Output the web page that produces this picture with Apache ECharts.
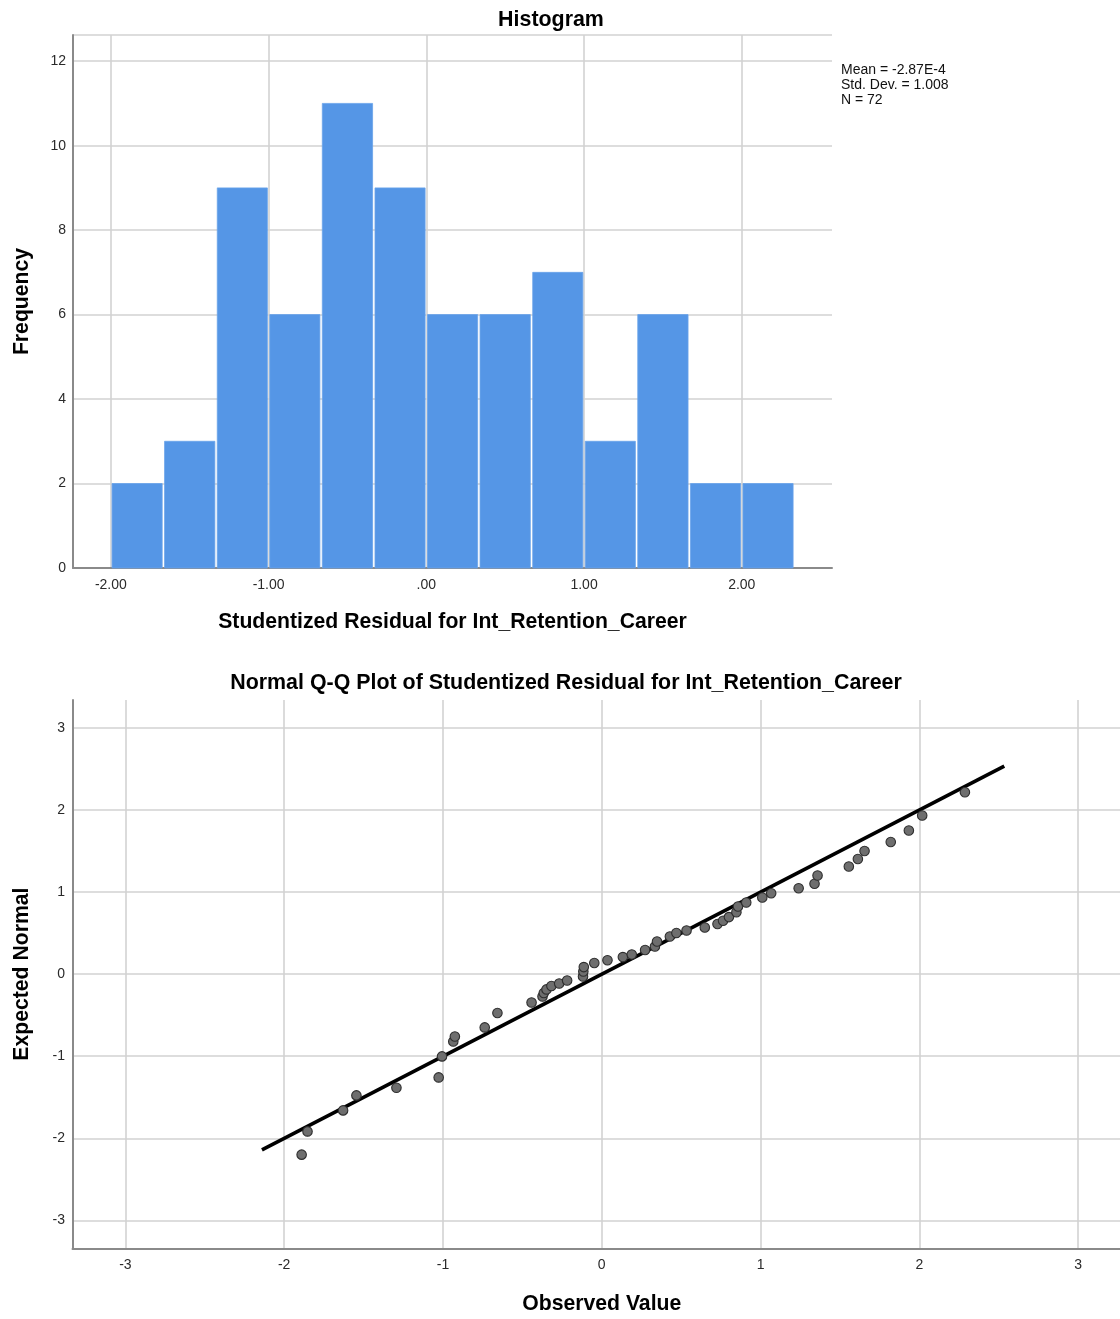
<!DOCTYPE html>
<html>
<head>
<meta charset="utf-8">
<script src="https://cdn.jsdelivr.net/npm/echarts@6/dist/echarts.min.js"></script>
<style>
  html, body { margin: 0; padding: 0; background: #ffffff; }
  #chart { width: 1120px; height: 1319px; }
</style>
</head>
<body>
<div id="chart"></div>
<script>
// ---------------- Data ----------------
// Histogram bins (lower / upper edges) and frequencies
const histBinLow  = [-2.000, -1.667, -1.333, -1.000, -0.667, -0.333, 0.000, 0.333, 0.667, 1.000, 1.333, 1.667, 2.000];
const histBinHigh = [-1.667, -1.333, -1.000, -0.667, -0.333, 0.000, 0.333, 0.667, 1.000, 1.333, 1.667, 2.000, 2.333];
const histCounts  = [2, 3, 9, 6, 11, 9, 6, 6, 7, 3, 6, 2, 2];
const histXTicks = [-2, -1, 0, 1, 2];
const histXTickLabels = ['-2.00', '-1.00', '.00', '1.00', '2.00'];
const statsLines = ['Mean = -2.87E-4', 'Std. Dev. = 1.008', 'N = 72'];

// Q-Q plot: observed value (x) and expected normal (y) per visible point
const qqObserved = [-1.890, -1.853, -1.629, -1.545, -1.293, -1.027, -1.006, -0.935, -0.925, -0.737,
                    -0.657, -0.442, -0.373, -0.365, -0.348, -0.317, -0.268, -0.218, -0.118, -0.116,
                    -0.113, -0.047, 0.036, 0.133, 0.189, 0.273, 0.335, 0.348, 0.429, 0.470,
                    0.534, 0.649, 0.729, 0.764, 0.801, 0.848, 0.858, 0.910, 1.011, 1.067,
                    1.240, 1.340, 1.359, 1.556, 1.613, 1.655, 1.820, 1.934, 2.018, 2.287];
const qqExpected = [-2.199, -1.916, -1.660, -1.477, -1.384, -1.258, -1.002, -0.820, -0.759, -0.649,
                    -0.474, -0.345, -0.272, -0.230, -0.186, -0.145, -0.113, -0.077, -0.028, 0.033,
                    0.086, 0.135, 0.169, 0.208, 0.240, 0.294, 0.337, 0.398, 0.459, 0.501,
                    0.532, 0.568, 0.611, 0.650, 0.695, 0.754, 0.825, 0.873, 0.933, 0.985,
                    1.046, 1.101, 1.202, 1.312, 1.403, 1.501, 1.610, 1.750, 1.932, 2.216];
const qqLineX = [-2.14, 2.535];
const qqLineY = [-2.14, 2.535];
const qqTicks = [-3, -2, -1, 0, 1, 2, 3];

// ---------------- Chart ----------------
const FONT = '"Liberation Sans", Arial, sans-serif';
const chart = echarts.init(document.getElementById('chart'), null, { renderer: 'canvas' });

const histData = histCounts.map((c, i) => [histBinLow[i], histBinHigh[i], c]);
const qqData = qqObserved.map((x, i) => [x, qqExpected[i]]);
const qqLine = qqLineX.map((x, i) => [x, qqLineY[i]]);

const axisLineStyle = { color: '#8a8a8a', width: 2 };
const gridLineStyle = { color: '#d2d2d2', width: 1.6 };
const labelStyle = { color: '#2a2a2a', fontSize: 14, fontFamily: FONT };
const nameStyle = { color: '#000', fontSize: 21.2, fontWeight: 'bold', fontFamily: FONT };
const titleStyle = { color: '#000', fontSize: 21.4, fontWeight: 'bold', fontFamily: FONT };

const option = {
  backgroundColor: '#ffffff',
  animation: false,
  title: [
    { text: 'Histogram', top: 5, left: 546, textAlign: 'center', textStyle: titleStyle },
    { text: 'Normal Q-Q Plot of Studentized Residual for Int_Retention_Career', top: 668,
      left: 561, textAlign: 'center', textStyle: titleStyle }
  ],
  grid: [
    { left: 73, top: 35, width: 759, height: 533, outerBoundsMode: 'none', containLabel: false },
    { left: 72.5, top: 700, width: 1058.5, height: 548.3, outerBoundsMode: 'none', containLabel: false }
  ],
  xAxis: [
    {
      gridIndex: 0, type: 'value', min: -2.24, max: 2.572,
      name: 'Studentized Residual for Int_Retention_Career', nameLocation: 'middle', nameGap: 44,
      nameTextStyle: nameStyle,
      axisLine: { show: true, onZero: false, lineStyle: axisLineStyle },
      axisTick: { show: false, customValues: histXTicks },
      axisLabel: { ...labelStyle, margin: 10, customValues: histXTicks,
        formatter: v => { const k = histXTicks.indexOf(Math.round(v)); return k >= 0 ? histXTickLabels[k] : ''; } },
      splitLine: { show: true, lineStyle: gridLineStyle }
    },
    {
      gridIndex: 1, type: 'value', min: -3.333, max: 3.333,
      name: 'Observed Value', nameLocation: 'middle', nameGap: 45,
      nameTextStyle: nameStyle,
      axisLine: { show: true, onZero: false, lineStyle: axisLineStyle },
      axisTick: { show: false, customValues: qqTicks },
      axisLabel: { ...labelStyle, margin: 10, customValues: qqTicks, formatter: v => String(Math.round(v)) },
      splitLine: { show: true, lineStyle: gridLineStyle }
    }
  ],
  yAxis: [
    {
      gridIndex: 0, type: 'value', min: 0, max: 12.62, interval: 2,
      name: 'Frequency', nameLocation: 'middle', nameGap: 40,
      nameTextStyle: nameStyle,
      axisLine: { show: true, onZero: false, lineStyle: axisLineStyle },
      axisTick: { show: false },
      axisLabel: { ...labelStyle, margin: 7, showMaxLabel: false,
        formatter: v => (v % 2 === 0 ? String(v) : '') },
      splitLine: { show: true, lineStyle: gridLineStyle }
    },
    {
      gridIndex: 1, type: 'value', min: -3.34, max: 3.34,
      name: 'Expected Normal', nameLocation: 'middle', nameGap: 40,
      nameTextStyle: nameStyle,
      axisLine: { show: true, onZero: false, lineStyle: axisLineStyle },
      axisTick: { show: false, customValues: qqTicks },
      axisLabel: { ...labelStyle, margin: 7.5, customValues: qqTicks, formatter: v => String(Math.round(v)) },
      splitLine: { show: true, lineStyle: gridLineStyle }
    }
  ],
  graphic: [
    {
      type: 'text', left: 841, top: 63,
      style: { text: statsLines.join('\n'), fill: '#111', font: '14px ' + FONT, lineHeight: 15 }
    }
  ],
  series: [
    {
      type: 'custom', xAxisIndex: 0, yAxisIndex: 0,
      data: histData,
      encode: { x: [0, 1], y: 2 },
      renderItem: function (params, api) {
        const lo = api.value(0), hi = api.value(1), c = api.value(2);
        const p0 = api.coord([lo, c]);
        const p1 = api.coord([hi, 0]);
        return {
          type: 'rect',
          shape: { x: p0[0] + 1.2, y: p0[1], width: p1[0] - p0[0] - 2.4, height: p1[1] - p0[1] },
          style: { fill: '#5596e6', stroke: '#6aa3ea', lineWidth: 0.8 }
        };
      },
      z: 2
    },
    {
      type: 'line', xAxisIndex: 1, yAxisIndex: 1,
      data: qqLine, symbol: 'none',
      lineStyle: { color: '#000', width: 3.6 },
      z: 3
    },
    {
      type: 'scatter', xAxisIndex: 1, yAxisIndex: 1,
      data: qqData, symbol: 'circle', symbolSize: 9.5,
      itemStyle: { color: '#6e6e6e', borderColor: '#2e2e2e', borderWidth: 1.1, opacity: 1 },
      z: 4
    }
  ]
};
chart.setOption(option);
</script>
</body>
</html>
